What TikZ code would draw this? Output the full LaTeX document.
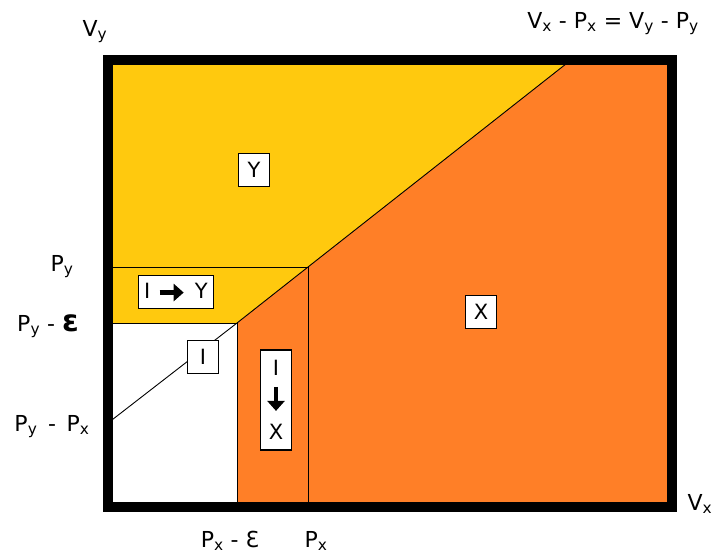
\documentclass[tikz,border=0pt]{standalone}
\usepackage{fontspec}
\setmainfont{DejaVu Sans}
\usetikzlibrary{positioning, arrows.meta}
\definecolor{gold}{HTML}{FFC90E}
\definecolor{paintorange}{HTML}{FF7F27}
\newcommand{\fatarrow}{\tikz[baseline=-0.5ex]{\draw[line width=4.5pt, -{Triangle[length=10pt, width=17pt]}] (0pt,0pt) -- (24pt,0pt);}}

\begin{document}
\begin{tikzpicture}[
    x=1pt, y=-1pt,
    frame/.style={draw=black, line width=10pt},
    split/.style={draw=black, line width=0.9pt},
    lbl/.style={font=\fontsize{22}{24}\selectfont, inner sep=0pt},
    tag/.style={draw=black, fill=white, line width=1.4pt, font=\fontsize{21}{24}\selectfont, align=center, inner sep=4pt, minimum width=31pt, minimum height=33pt}
]
    \useasboundingbox (0,0) rectangle (717,558);

    % Corner and break points (picture coordinates, y downwards)
    \coordinate (nw) at (108,60);
    \coordinate (ne) at (672,60);
    \coordinate (se) at (672,507);
    \coordinate (sw) at (108,507);
    \coordinate (top) at (571,60);
    \coordinate (kink) at (308,267);
    \coordinate (foot) at (237,323);
    \coordinate (low) at (108,423);
    \coordinate (pyleft) at (108,267);
    \coordinate (pyeleft) at (108,323);
    \coordinate (pxbot) at (308,507);
    \coordinate (pxebot) at (237,507);

    % Regions
    \fill[gold] (nw) -- (top) -- (foot) -- (pyeleft) -- cycle;
    \fill[paintorange] (top) -- (ne) -- (se) -- (pxebot) -- (foot) -- cycle;

    % Boundaries
    \draw[split] (top) -- (kink) -- (foot) -- (low);
    \draw[split] (pyleft) -- (kink) -- (pxbot);
    \draw[split] (pyeleft) -- (foot) -- (pxebot);

    % Frame
    \draw[frame] (nw) rectangle (se);

    % Region tags
    \node (tagy) at (254,170) [tag] {Y};
    \node (tagx) at (481,312) [tag] {X};
    \node (tagi) at (203,357) [tag] {I};
    \node (tagiy) at (176,292) [tag, inner xsep=6pt] {I\hspace{7pt}\fatarrow\hspace{9pt}Y};
    \node (tagix) at (276,400) [tag, minimum height=100pt, font=\fontsize{21}{32}\selectfont] {I\\\raisebox{23pt}[14pt][6pt]{\rotatebox{-90}{\fatarrow}}\\X};

    % Axis labels
    \node (vy) at (95,32) [lbl] {V\textsubscript{y}};
    \node (diag) at (613,24) [lbl] {V\textsubscript{x} - P\textsubscript{x} = V\textsubscript{y} - P\textsubscript{y}};
    \node (py) at (62,267) [lbl] {P\textsubscript{y}};
    \node (pye) at (48,326) [lbl] {P\textsubscript{y} - {\fontsize{30}{30}\selectfont\bfseries ε}};
    \node (pypx) at (52,427) [lbl] {P\textsubscript{y}\, -\, P\textsubscript{x}};
    \node (pxe) at (230,541) [lbl] {P\textsubscript{x} - Ɛ};
    \node (px) at (316,541) [lbl] {P\textsubscript{x}};
    \node (vx) at (700,504) [lbl] {V\textsubscript{x}};
\end{tikzpicture}
\end{document}
